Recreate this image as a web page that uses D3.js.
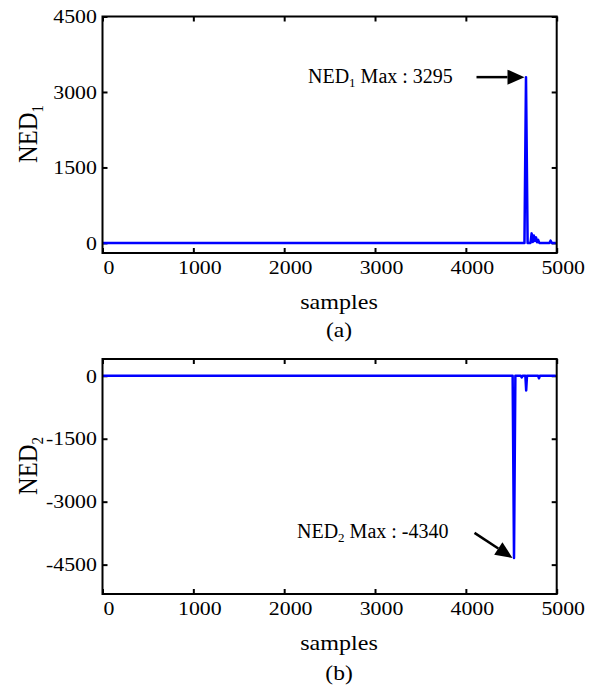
<!DOCTYPE html>
<html>
<head>
<meta charset="utf-8">
<script src="https://cdn.jsdelivr.net/npm/d3@7"></script>
<style>
  body { margin: 0; background: #fff; }
  svg text { font-family: "Liberation Serif", "Times New Roman", serif; fill: #000; }
</style>
</head>
<body>
<svg id="chart" width="593" height="686"></svg>
<script>
const svg = d3.select("#chart");

// data
const xTicks = [0, 1000, 2000, 3000, 4000, 5000];
const yTicksA = [0, 1500, 3000, 4500];
const yTicksB = [0, -1500, -3000, -4500];

const samplesA = [0, 4645, 4662, 4680, 4712, 4724, 4736, 4748, 4760, 4772, 4784, 4796, 4808, 4820, 4920, 4932, 4945, 4990];
const ned1 = [0, 0, 3295, 0, 0, 190, 20, 150, 40, 110, 15, 60, 0, 0, 0, 45, 0, 0];

const samplesB = [0, 4515, 4530, 4545, 4605, 4615, 4625, 4655, 4664, 4673, 4795, 4805, 4815, 4990];
const ned2 = [0, 0, -4340, 0, 0, -40, 0, 0, -350, 0, 0, -60, 0, 0];

const stretch = 1.12;
const x = d3.scaleLinear().domain([0, 5000]).range([102.5, 556.7]);
const fmt = (d) => String(d); // plain hyphen for negatives

function drawPanel(opts) {
  const y = d3.scaleLinear().domain(opts.yDomain).range(opts.yRange);
  const [top, bottom] = [opts.yRange[1], opts.yRange[0]];
  const g = svg.append("g");

  // bottom axis
  const xa = g.append("g")
    .attr("transform", `translate(0,${bottom})`)
    .call(d3.axisBottom(x).tickValues(xTicks).tickSizeInner(-5).tickSizeOuter(0).tickPadding(7).tickFormat(fmt));
  // left axis
  const ya = g.append("g")
    .attr("transform", `translate(${x.range()[0]},0)`)
    .call(d3.axisLeft(y).tickValues(opts.yTicks).tickSizeInner(-5).tickSizeOuter(0).tickPadding(5).tickFormat(fmt));
  // mirrored ticks on top and right
  g.append("g")
    .attr("transform", `translate(0,${top})`)
    .call(d3.axisTop(x).tickValues(xTicks).tickSizeInner(-5).tickSizeOuter(0).tickFormat(""));
  g.append("g")
    .attr("transform", `translate(${x.range()[1]},0)`)
    .call(d3.axisRight(y).tickValues(opts.yTicks).tickSizeInner(-5).tickSizeOuter(0).tickFormat(""));

  g.selectAll(".domain").remove();
  g.selectAll(".tick line").attr("stroke", "#000").attr("stroke-width", 2);
  xa.selectAll("text")
    .attr("font-size", 19.5)
    .attr("transform", `translate(6,0) scale(${stretch},1)`);
  ya.selectAll("text")
    .attr("font-size", 19.5)
    .attr("transform", `scale(${stretch},1)`);

  // the signal
  const line = d3.line().x((d) => x(d[0])).y((d) => y(d[1]));
  g.append("path")
    .datum(opts.xs.map((s, i) => [s, opts.ys[i]]))
    .attr("d", line)
    .attr("fill", "none")
    .attr("stroke", "#0000ff")
    .attr("stroke-width", 2.5)
    .attr("stroke-linejoin", "round");

  // frame
  g.append("rect")
    .attr("x", x.range()[0])
    .attr("y", top)
    .attr("width", x.range()[1] - x.range()[0])
    .attr("height", bottom - top)
    .attr("fill", "none")
    .attr("stroke", "#000")
    .attr("stroke-width", 2);

  // y label
  const yl = g.append("text")
    .attr("transform", `translate(${opts.ylabX},${opts.ylabY}) scale(1.15,1) rotate(-90)`)
    .attr("text-anchor", "middle")
    .attr("font-size", 24.5);
  yl.append("tspan").text("NED");
  yl.append("tspan").attr("font-size", 15).attr("dy", 5).text(opts.sub);

  // x label and caption
  g.append("text")
    .attr("transform", `translate(339,${opts.xlabY}) scale(${stretch},1)`)
    .attr("text-anchor", "middle")
    .attr("font-size", 21.5)
    .text("samples");
  g.append("text")
    .attr("transform", `translate(339,${opts.capY}) scale(${stretch},1)`)
    .attr("text-anchor", "middle")
    .attr("font-size", 21)
    .text(opts.caption);

  // annotation
  const ann = g.append("text")
    .attr("x", opts.annX)
    .attr("y", opts.annY)
    .attr("font-size", 20);
  ann.append("tspan").text("NED");
  ann.append("tspan").attr("font-size", 13).attr("dy", 4).text(opts.sub);
  ann.append("tspan").attr("dy", -4).text(" Max : " + opts.maxText);

  const tip = [x(opts.peak[0]) - 1.5, y(opts.peak[1]) + opts.tipDy];
  const start = [tip[0] + opts.arrowFrom[0], tip[1] + opts.arrowFrom[1]];
  const ang = Math.atan2(tip[1] - start[1], tip[0] - start[0]);
  const hl = 17, hw = 7.5;
  const base = [tip[0] - hl * Math.cos(ang), tip[1] - hl * Math.sin(ang)];
  g.append("line")
    .attr("x1", start[0]).attr("y1", start[1])
    .attr("x2", base[0]).attr("y2", base[1])
    .attr("stroke", "#000").attr("stroke-width", 2.5);
  g.append("polygon")
    .attr("points", [
      tip,
      [base[0] + hw * Math.sin(ang), base[1] - hw * Math.cos(ang)],
      [base[0] - hw * Math.sin(ang), base[1] + hw * Math.cos(ang)]
    ].map((p) => p.join(",")).join(" "))
    .attr("fill", "#000");
}

drawPanel({
  yDomain: [-200, 4500], yRange: [253, 16.5], yTicks: yTicksA,
  xs: samplesA, ys: ned1, sub: "1",
  ylabX: 37, ylabY: 134, xlabY: 309, capY: 337, caption: "(a)",
  annX: 308, annY: 83, maxText: "3295",
  peak: [4662, 3295], tipDy: 0, arrowFrom: [-48, 0]
});

drawPanel({
  yDomain: [-5200, 400], yRange: [594, 359], yTicks: yTicksB,
  xs: samplesB, ys: ned2, sub: "2",
  ylabX: 37, ylabY: 466, xlabY: 650, capY: 680, caption: "(b)",
  annX: 297, annY: 538, maxText: "-4340",
  peak: [4530, -4340], tipDy: 0, arrowFrom: [-38, -25]
});
</script>
</body>
</html>
